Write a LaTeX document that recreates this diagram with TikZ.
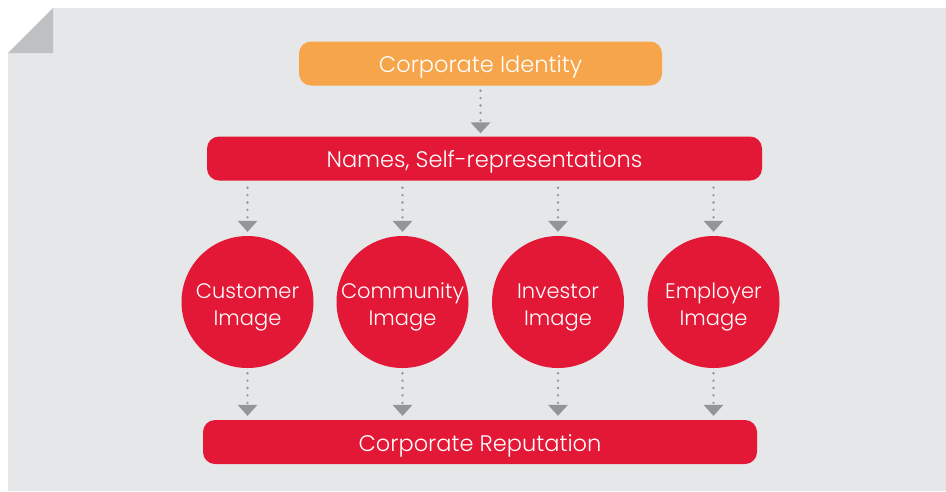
\documentclass[tikz,border=0pt]{standalone}
\usepackage{fontspec}
\setmainfont{Poppins Light}
\usetikzlibrary{arrows.meta}
\definecolor{panel}{HTML}{E6E7E8}
\definecolor{fold}{HTML}{BFC0C2}
\definecolor{redc}{HTML}{E31837}
\definecolor{orangec}{HTML}{F7A54B}
\definecolor{dotc}{HTML}{939598}
\tikzset{
  bar/.style={fill=redc, draw=none, rounded corners=12pt, text=white, font=\fontsize{22.5}{27}\selectfont, inner sep=0pt, text height=18pt, text depth=0pt},
  topbar/.style={bar, fill=orangec},
  imgc/.style={circle, fill=redc, draw=none, minimum size=132pt, inner sep=0pt, text=white, align=center, font=\fontsize{21}{27}\selectfont, text height=46pt, text depth=0pt},
  conn/.style={draw=dotc, line width=2.6pt, line cap=round, dash pattern=on 0pt off 7.4pt,
    -{Triangle[width=20pt,length=11pt,fill=dotc,line width=0pt]}},
}
\begin{document}
\begin{tikzpicture}[x=1pt,y=-1pt]
\useasboundingbox (0,0) rectangle (946,491);
\fill[white] (0,0) rectangle (946,491);
\fill[panel] (53,8) -- (946,8) -- (946,491) -- (8,491) -- (8,53) -- cycle;
\fill[fold] (8,53) -- (53,8) -- (53,53) -- cycle;

\node[topbar, minimum width=363pt, minimum height=44pt] (ci) at (480.5,63.5) {Corporate Identity};
\node[bar, minimum width=555pt, minimum height=44pt] (nm) at (484.5,158.5) {Names, Self-representations};
\node[imgc] (c1) at (247.5,302) {Customer\\Image};
\node[imgc] (c2) at (402.5,302) {Community\\Image};
\node[imgc] (c3) at (558,302) {Investor\\Image};
\node[imgc] (c4) at (713.5,302) {Employer\\Image};
\node[bar, minimum width=554pt, minimum height=44pt] (cr) at (480,442) {Corporate Reputation};

\draw[conn, shorten <=5pt, shorten >=3pt] (ci.south) -- (ci.south |- nm.north);
\foreach \c in {c1,c2,c3,c4}{
  \draw[conn, shorten <=7pt, shorten >=4pt] (\c |- nm.south) -- (\c.north);
  \draw[conn, shorten <=5pt, shorten >=4pt] (\c.south) -- (\c |- cr.north);
}
\end{tikzpicture}
\end{document}
